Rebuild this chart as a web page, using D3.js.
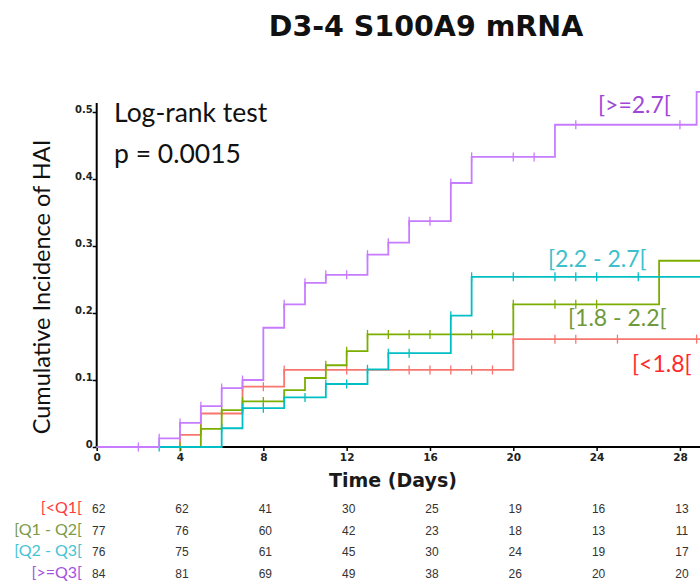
<!DOCTYPE html>
<html><head><meta charset="utf-8">
<script src="https://cdn.jsdelivr.net/npm/d3@7"></script>
<style>
html,body{margin:0;padding:0;background:#fff;overflow:hidden}
svg{display:block}
</style></head>
<body>
<svg id="chart" width="700" height="585"></svg>
<script>
// ---- data ----
const groupLabels = ["[<1.8[", "[1.8 - 2.2[", "[2.2 - 2.7[", "[>=2.7["];
const riskLabels = ["[<Q1[", "[Q1 - Q2[", "[Q2 - Q3[", "[>=Q3["];

const redTimes = [0, 4, 5, 7, 9, 20];
const redValues = [0, 0.018, 0.050, 0.090, 0.115, 0.161];
const redCensor = [4, 6, 7, 8, 9, 12, 15, 16, 17, 18, 19, 20, 22, 23, 25, 28.8];

const greenTimes = [0, 5, 6, 7, 9, 10, 11, 12, 13, 20, 27];
const greenValues = [0, 0.027, 0.055, 0.068, 0.085, 0.103, 0.122, 0.143, 0.168, 0.213, 0.278];
const greenCensor = [4, 5, 6, 7, 8, 11, 12, 13, 14, 15, 16, 18, 19, 20, 22, 23, 24];

const cyanTimes = [0, 6, 7, 9, 11, 13, 14, 17, 18];
const cyanValues = [0, 0.028, 0.058, 0.074, 0.094, 0.116, 0.140, 0.196, 0.254];
const cyanCensor = [3, 6, 7, 8, 10, 11, 12, 13, 14, 15, 17, 18, 20, 22, 23, 24, 26];

const purpleTimes = [0, 3, 4, 5, 6, 7, 8, 9, 10, 11, 13, 14, 15, 17, 18, 22, 28.8];
const purpleValues = [0, 0.013, 0.036, 0.061, 0.088, 0.100, 0.178, 0.213, 0.245, 0.257, 0.287, 0.305, 0.337, 0.394, 0.433, 0.481, 0.53];
const purpleCensor = [2, 3, 4, 5, 6, 7, 9, 10, 11, 12, 13, 14, 15, 16, 17, 18, 20, 21, 23, 28];

const xTicks = [0, 4, 8, 12, 16, 20, 24, 28];
const yTicks = [0, 0.1, 0.2, 0.3, 0.4, 0.5];
const riskTimes = [0, 4, 8, 12, 16, 20, 24, 28];
const riskRed = [62, 62, 41, 30, 25, 19, 16, 13];
const riskGreen = [77, 76, 60, 42, 23, 18, 13, 11];
const riskCyan = [76, 75, 61, 45, 30, 24, 19, 17];
const riskPurple = [84, 81, 69, 49, 38, 26, 20, 20];

const title = "D3-4 S100A9 mRNA";
const testLine1 = "Log-rank test";
const testLine2 = "p = 0.0015";
const xTitle = "Time (Days)";
const yTitle = "Cumulative Incidence of HAI";

// ---- styles ----
const lineColors = ["#f8766d", "#7cae00", "#00bfc4", "#c77cff"];
const labelColors = ["#ff2a2a", "#6e9a3c", "#3ebfcc", "#a046d8"];
const riskColors = ["#ff3b3b", "#7a9a48", "#45c4d2", "#a452e0"];

const series = [
  {t: redTimes, v: redValues, c: redCensor},
  {t: greenTimes, v: greenValues, c: greenCensor},
  {t: cyanTimes, v: cyanValues, c: cyanCensor},
  {t: purpleTimes, v: purpleValues, c: purpleCensor}
];
const risk = [riskRed, riskGreen, riskCyan, riskPurple];

const svg = d3.select("#chart");
const x = d3.scaleLinear().domain([0, 30]).range([96.7, 96.7 + 30 * 20.83]);
const y = d3.scaleLinear().domain([0, 0.5]).range([447, 112]);
const tEnd = 30;

// title
svg.append("text").attr("x", 426).attr("y", 36).attr("text-anchor", "middle")
  .attr("font-family", "DejaVu Sans").attr("font-weight", "bold").attr("font-size", 28.5)
  .attr("fill", "#111").text(title);

// axes
const yAxis = d3.axisLeft(y).tickValues(yTicks).tickSize(4).tickFormat(d => d === 0 ? "0" : d3.format(".1f")(d));
const gy = svg.append("g").attr("transform", `translate(${x(0)},0)`).call(yAxis);
gy.select(".domain").attr("d", `M0,${y(0)}V${y(0.5) - 9}`).attr("stroke", "#000").attr("stroke-width", 2);
gy.selectAll(".tick line").attr("stroke", "#000").attr("stroke-width", 1.5);
gy.selectAll(".tick text").attr("font-family", "DejaVu Sans").attr("font-weight", "bold")
  .attr("font-size", 10).attr("fill", "#222").attr("dy", "0").attr("x", -4);

const xAxis = d3.axisBottom(x).tickValues(xTicks).tickSize(4).tickFormat(d3.format("d"));
const gx = svg.append("g").attr("transform", `translate(0,${y(0)})`).call(xAxis);
gx.select(".domain").attr("d", `M${x(0) - 1},0H${x(tEnd)}`).attr("stroke", "#000").attr("stroke-width", 2);
gx.selectAll(".tick line").attr("stroke", "#000").attr("stroke-width", 1.5);
gx.selectAll(".tick text").attr("font-family", "DejaVu Sans").attr("font-weight", "bold")
  .attr("font-size", 10.5).attr("fill", "#222").attr("y", 7);

// axis titles
svg.append("text").attr("x", 393).attr("y", 487).attr("text-anchor", "middle")
  .attr("font-family", "DejaVu Sans").attr("font-weight", "bold").attr("font-size", 19)
  .attr("fill", "#1a1a1a").text(xTitle);
svg.append("text").attr("transform", `translate(50,287) rotate(-90)`).attr("text-anchor", "middle")
  .attr("font-family", "Lato").attr("font-size", 23.5).attr("fill", "#111").text(yTitle);

// test annotation
svg.append("text").attr("x", 114).attr("y", 122).attr("font-family", "Lato").attr("font-size", 26.5)
  .attr("fill", "#111").text(testLine1);
svg.append("text").attr("x", 114).attr("y", 163).attr("font-family", "Lato").attr("font-size", 26.5)
  .attr("fill", "#111").text(testLine2);

// curves
const stepVal = (s, t) => { let val = 0; for (let i = 0; i < s.t.length; i++) if (s.t[i] <= t) val = s.v[i]; return val; };
const line = d3.line().x(d => x(d[0])).y(d => y(d[1])).curve(d3.curveStepAfter);
series.forEach((s, i) => {
  const pts = s.t.map((t, j) => [t, s.v[j]]);
  pts.push([tEnd, s.v[s.v.length - 1]]);
  const g = svg.append("g");
  g.append("path").attr("d", line(pts)).attr("fill", "none").attr("stroke", lineColors[i])
    .attr("stroke-width", 1.8);
  g.selectAll("line").data(s.c).join("line")
    .attr("x1", d => x(d)).attr("x2", d => x(d))
    .attr("y1", d => y(stepVal(s, d)) - 4.5).attr("y2", d => y(stepVal(s, d)) + 4.5)
    .attr("stroke", lineColors[i]).attr("stroke-width", 1.3);
});

// group labels in plot
const labelPos = [[632, 372], [568, 326], [548, 267], [598, 113]];
groupLabels.forEach((l, i) => {
  svg.append("text").attr("x", labelPos[i][0]).attr("y", labelPos[i][1])
    .attr("font-family", "Lato").attr("font-size", 23).attr("fill", labelColors[i]).text(l);
});

// risk table
const rowY = [513, 535, 556, 578];
riskLabels.forEach((l, i) => {
  svg.append("text").attr("x", 82).attr("y", rowY[i]).attr("text-anchor", "end")
    .attr("font-family", "Lato").attr("font-size", 16).attr("fill", riskColors[i]).text(l);
  svg.append("g").selectAll("text").data(risk[i]).join("text")
    .attr("x", (d, j) => x(riskTimes[j]) + 2).attr("y", rowY[i]).attr("text-anchor", "middle")
    .attr("font-family", "Liberation Sans").attr("font-size", 12).attr("fill", "#333").text(d => d);
});
</script>
</body></html>
